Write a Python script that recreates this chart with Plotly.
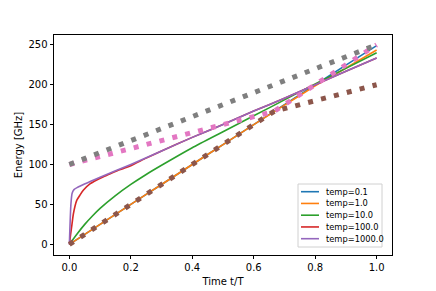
import plotly.graph_objects as go

# ---- data ----
temps = ["temp=0.1", "temp=1.0", "temp=10.0", "temp=100.0", "temp=1000.0"]
colors = ["#1f77b4", "#ff7f0e", "#2ca02c", "#d62728", "#9467bd"]

t_blue = [0, 0.1, 0.2, 0.3, 0.4, 0.5, 0.6, 0.7, 0.8, 0.9, 1.0]
e_blue = [0, 25, 50, 75, 100, 125, 150, 175, 199.8, 224.5, 249]

t_orange = [0, 0.1, 0.2, 0.3, 0.4, 0.5, 0.6, 0.7, 0.8, 0.9, 1.0]
e_orange = [0, 25, 50, 75, 100, 125, 150, 174.5, 198.5, 221.0, 243.5]

t_green = [0, 0.025, 0.05, 0.075, 0.1, 0.15, 0.2, 0.25, 0.3, 0.4, 0.5, 0.6, 0.7, 0.8, 0.9, 1.0]
e_green = [0, 13, 25, 35.5, 45, 61, 75, 87.5, 99, 121, 141, 161, 181, 201, 220.5, 240]

t_red = [0, 0.004, 0.0075, 0.013, 0.024, 0.035, 0.046, 0.067, 0.089, 0.111,
         0.133, 0.154, 0.18, 0.2, 0.25, 0.3, 0.4, 0.5, 0.6, 0.7, 0.8, 0.9, 1.0]
e_red = [0, 12, 22, 38, 55, 62, 68, 75.6, 80.5, 84.7,
         88.5, 92, 95.5, 98.5, 108, 117, 134, 150, 167, 183, 200, 217, 233.4]

t_purple = [0, 0.005, 0.009, 0.015, 0.025, 0.1, 0.2, 0.3, 0.4, 0.5, 0.6, 0.7, 0.8, 0.9, 1.0]
e_purple = [0, 50, 64, 68.5, 71, 84, 100, 117, 134, 150, 167, 183, 200, 217, 233.4]

t_brown = [0, 0.6667, 1.0]
e_brown = [0, 166.67, 200]
t_pink = [0, 0.6667, 1.0]
e_pink = [100, 166.67, 250]
t_gray = [0, 1.0]
e_gray = [100, 250]

x_ticks = [0.0, 0.2, 0.4, 0.6, 0.8, 1.0]
y_ticks = [0, 50, 100, 150, 200, 250]

solid = [(t_blue, e_blue), (t_orange, e_orange), (t_green, e_green),
         (t_red, e_red), (t_purple, e_purple)]
dotted = [(t_brown, e_brown, "#8c564b"), (t_pink, e_pink, "#e377c2"),
          (t_gray, e_gray, "#7f7f7f")]

fig = go.Figure()
for (tx, ey), name, c in zip(solid, temps, colors):
    fig.add_trace(go.Scatter(x=tx, y=ey, mode="lines", name=name,
                             line=dict(color=c, width=1.6, shape="spline", smoothing=0.5),
                             showlegend=False))
for tx, ey, c in dotted:
    fig.add_trace(go.Scatter(x=tx, y=ey, mode="lines",
                             line=dict(color=c, width=5, dash="5px,8.3px"),
                             showlegend=False))

OFF = 8  # page body margin
W, H = 436 - OFF, 291 - OFF
L, R, T, B = 54 - OFF, 44, 35 - OFF, 36
pw, ph = W - L - R, H - T - B

def px(xp):
    return (xp - OFF - L) / pw

def py(yp):
    return (H - B - (yp - OFF)) / ph

shapes = [dict(type="rect", xref="paper", yref="paper",
               x0=px(298), x1=px(382), y0=py(247), y1=py(184),
               line=dict(color="#d0d0d0", width=1), fillcolor="rgba(255,255,255,0.8)",
               layer="above")]
annotations = []
for i, (name, c) in enumerate(zip(temps, colors)):
    yy = 191.7 + 11.75 * i
    shapes.append(dict(type="line", xref="paper", yref="paper",
                       x0=px(301), x1=px(319), y0=py(yy), y1=py(yy),
                       line=dict(color=c, width=1.6), layer="above"))
    annotations.append(dict(xref="paper", yref="paper", x=px(324), y=py(yy),
                            text=name, showarrow=False, xanchor="left", yanchor="middle",
                            font=dict(size=8.3, color="black", family="DejaVu Sans")))

fig.update_layout(
    width=W, height=H,
    margin=dict(l=L, r=R, t=T, b=B, autoexpand=False),
    plot_bgcolor="white", paper_bgcolor="white",
    font=dict(family="DejaVu Sans", size=10, color="black"),
    shapes=shapes, annotations=annotations,
    showlegend=False,
)
fig.update_xaxes(range=[-0.05, 1.05], tickvals=x_ticks,
                 ticktext=[f"{v:.1f}" for v in x_ticks], automargin=False,
                 showgrid=False, zeroline=False, showline=True, mirror=True,
                 linecolor="black", linewidth=0.8, ticks="outside", ticklen=3.5,
                 tickwidth=0.8, tickcolor="black",
                 title=dict(text="Time t/T", font=dict(size=10), standoff=5))
fig.update_yaxes(range=[-13.4, 262.3], tickvals=y_ticks,
                 ticktext=[str(v) for v in y_ticks], automargin=False,
                 showgrid=False, zeroline=False, showline=True, mirror=True,
                 linecolor="black", linewidth=0.8, ticks="outside", ticklen=3.5,
                 tickwidth=0.8, tickcolor="black",
                 title=dict(text="Energy [GHz]", font=dict(size=10), standoff=4))

fig.write_html("out.html")
